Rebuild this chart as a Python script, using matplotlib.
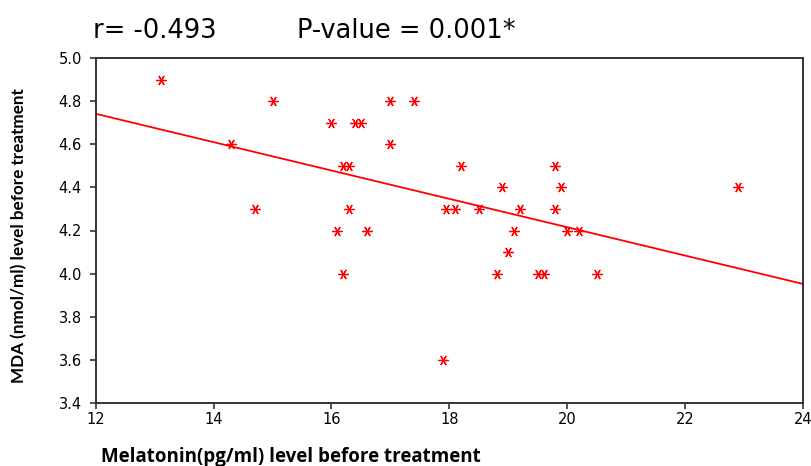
import numpy as np
import matplotlib
matplotlib.use("Agg")
import matplotlib.pyplot as plt

# Melatonin vs MDA, before treatment
melatonin = [13.1, 15.0, 17.0, 17.4, 16.0, 16.4, 16.5, 14.3, 17.0,
             16.2, 16.3, 18.2, 19.8, 18.9, 19.9, 22.9,
             14.7, 16.3, 17.95, 18.1, 18.5, 19.2, 19.8,
             16.1, 16.6, 19.1, 20.0, 20.2, 19.0,
             16.2, 18.8, 19.5, 19.6, 20.5, 17.9]
mda = [4.9, 4.8, 4.8, 4.8, 4.7, 4.7, 4.7, 4.6, 4.6,
       4.5, 4.5, 4.5, 4.5, 4.4, 4.4, 4.4,
       4.3, 4.3, 4.3, 4.3, 4.3, 4.3, 4.3,
       4.2, 4.2, 4.2, 4.2, 4.2, 4.1,
       4.0, 4.0, 4.0, 4.0, 4.0, 3.6]

x_ticks = [12, 14, 16, 18, 20, 22, 24]
y_ticks = [3.4, 3.6, 3.8, 4.0, 4.2, 4.4, 4.6, 4.8, 5.0]

W, H = 811, 466
fig = plt.figure(figsize=(W / 100, H / 100), dpi=100)
ax = fig.add_axes([95.7 / W, 1 - 403 / H, (803 - 95.7) / W, (403 - 58) / H])

ax.plot(melatonin, mda, linestyle="none", marker=(6, 2, 90), markersize=7.5,
        markeredgewidth=0.9, color="#ff0000", zorder=3)

# least squares line
slope, icpt = np.polyfit(melatonin, mda, 1)
xs = np.array([12, 24])
ax.plot(xs, slope * xs + icpt, color="#ff0000", lw=1.3, zorder=2)

ax.set_xlim(12, 24)
ax.set_ylim(3.4, 5.0)
ax.set_xticks(x_ticks)
ax.set_yticks(y_ticks)
ax.set_yticklabels([f"{v:.1f}" for v in y_ticks])

for s in ax.spines.values():
    s.set_linewidth(1.4)
    s.set_color("#333333")
ax.tick_params(direction="out", length=4, width=1.2, labelsize=10.5, color="#333333")
ax.tick_params(axis="y", pad=6)
ax.tick_params(axis="x", pad=2.5)
for lab in ax.get_xticklabels() + ax.get_yticklabels():
    lab.set_family("DejaVu Sans")

fig.text(93 / W, 1 - 37.5 / H, "r= -0.493", fontsize=18.5, family="DejaVu Sans",
         va="baseline", ha="left")
fig.text(297 / W, 1 - 37.5 / H, "P-value = 0.001*", fontsize=18.5, family="DejaVu Sans",
         va="baseline", ha="left")

fig.text(101 / W, 1 - 457 / H, "Melatonin(pg/ml) level before treatment", fontsize=13.5,
         family="Open Sans", fontweight="bold", va="center", ha="left")
fig.text(19 / W, 1 - 236 / H, "MDA (nmol/ml) level before treatment", fontsize=12.3,
         family="Lato", fontweight="bold", va="center", ha="center", rotation=90)

fig.savefig("out.png", dpi=100)
